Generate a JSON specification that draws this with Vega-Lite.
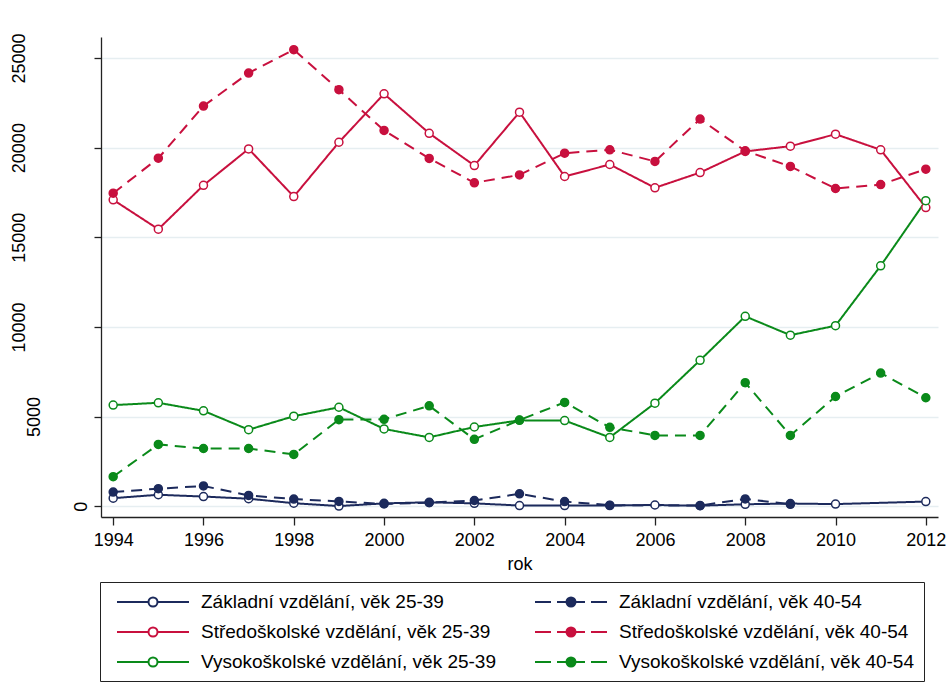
{
  "$schema": "https://vega.github.io/schema/vega-lite/v6.json",
  "width": 837,
  "height": 480,
  "autosize": "none",
  "padding": {"left": 101, "top": 37, "right": 12, "bottom": 182},
  "background": "white",
  "config": {
    "view": {"stroke": null},
    "font": "Liberation Sans",
    "axis": {"labelFont": "Liberation Sans", "titleFont": "Liberation Sans", "labelColor": "black", "titleColor": "black", "domainColor": "#222222", "tickColor": "#222222", "domainWidth": 1.3, "tickWidth": 1.3}
  },
  "data": {"values": [
    {"rok": 1994, "hodnota": 450, "serie": "Základní vzdělání, věk 25-39"},
    {"rok": 1995, "hodnota": 640, "serie": "Základní vzdělání, věk 25-39"},
    {"rok": 1996, "hodnota": 540, "serie": "Základní vzdělání, věk 25-39"},
    {"rok": 1997, "hodnota": 420, "serie": "Základní vzdělání, věk 25-39"},
    {"rok": 1998, "hodnota": 170, "serie": "Základní vzdělání, věk 25-39"},
    {"rok": 1999, "hodnota": 10, "serie": "Základní vzdělání, věk 25-39"},
    {"rok": 2000, "hodnota": 160, "serie": "Základní vzdělání, věk 25-39"},
    {"rok": 2001, "hodnota": 220, "serie": "Základní vzdělání, věk 25-39"},
    {"rok": 2002, "hodnota": 160, "serie": "Základní vzdělání, věk 25-39"},
    {"rok": 2003, "hodnota": 40, "serie": "Základní vzdělání, věk 25-39"},
    {"rok": 2004, "hodnota": 40, "serie": "Základní vzdělání, věk 25-39"},
    {"rok": 2005, "hodnota": 40, "serie": "Základní vzdělání, věk 25-39"},
    {"rok": 2006, "hodnota": 70, "serie": "Základní vzdělání, věk 25-39"},
    {"rok": 2007, "hodnota": 30, "serie": "Základní vzdělání, věk 25-39"},
    {"rok": 2008, "hodnota": 110, "serie": "Základní vzdělání, věk 25-39"},
    {"rok": 2009, "hodnota": 150, "serie": "Základní vzdělání, věk 25-39"},
    {"rok": 2010, "hodnota": 120, "serie": "Základní vzdělání, věk 25-39"},
    {"rok": 2012, "hodnota": 260, "serie": "Základní vzdělání, věk 25-39"},
    {"rok": 1994, "hodnota": 790, "serie": "Základní vzdělání, věk 40-54"},
    {"rok": 1995, "hodnota": 980, "serie": "Základní vzdělání, věk 40-54"},
    {"rok": 1996, "hodnota": 1130, "serie": "Základní vzdělání, věk 40-54"},
    {"rok": 1997, "hodnota": 600, "serie": "Základní vzdělání, věk 40-54"},
    {"rok": 1998, "hodnota": 400, "serie": "Základní vzdělání, věk 40-54"},
    {"rok": 1999, "hodnota": 270, "serie": "Základní vzdělání, věk 40-54"},
    {"rok": 2000, "hodnota": 130, "serie": "Základní vzdělání, věk 40-54"},
    {"rok": 2001, "hodnota": 200, "serie": "Základní vzdělání, věk 40-54"},
    {"rok": 2002, "hodnota": 320, "serie": "Základní vzdělání, věk 40-54"},
    {"rok": 2003, "hodnota": 690, "serie": "Základní vzdělání, věk 40-54"},
    {"rok": 2004, "hodnota": 260, "serie": "Základní vzdělání, věk 40-54"},
    {"rok": 2005, "hodnota": 60, "serie": "Základní vzdělání, věk 40-54"},
    {"rok": 2007, "hodnota": 40, "serie": "Základní vzdělání, věk 40-54"},
    {"rok": 2008, "hodnota": 410, "serie": "Základní vzdělání, věk 40-54"},
    {"rok": 2009, "hodnota": 110, "serie": "Základní vzdělání, věk 40-54"},
    {"rok": 1994, "hodnota": 17090, "serie": "Středoškolské vzdělání, věk 25-39"},
    {"rok": 1995, "hodnota": 15450, "serie": "Středoškolské vzdělání, věk 25-39"},
    {"rok": 1996, "hodnota": 17900, "serie": "Středoškolské vzdělání, věk 25-39"},
    {"rok": 1997, "hodnota": 19930, "serie": "Středoškolské vzdělání, věk 25-39"},
    {"rok": 1998, "hodnota": 17270, "serie": "Středoškolské vzdělání, věk 25-39"},
    {"rok": 1999, "hodnota": 20300, "serie": "Středoškolské vzdělání, věk 25-39"},
    {"rok": 2000, "hodnota": 23000, "serie": "Středoškolské vzdělání, věk 25-39"},
    {"rok": 2001, "hodnota": 20800, "serie": "Středoškolské vzdělání, věk 25-39"},
    {"rok": 2002, "hodnota": 19000, "serie": "Středoškolské vzdělání, věk 25-39"},
    {"rok": 2003, "hodnota": 21980, "serie": "Středoškolské vzdělání, věk 25-39"},
    {"rok": 2004, "hodnota": 18390, "serie": "Středoškolské vzdělání, věk 25-39"},
    {"rok": 2005, "hodnota": 19060, "serie": "Středoškolské vzdělání, věk 25-39"},
    {"rok": 2006, "hodnota": 17760, "serie": "Středoškolské vzdělání, věk 25-39"},
    {"rok": 2007, "hodnota": 18610, "serie": "Středoškolské vzdělání, věk 25-39"},
    {"rok": 2008, "hodnota": 19790, "serie": "Středoškolské vzdělání, věk 25-39"},
    {"rok": 2009, "hodnota": 20080, "serie": "Středoškolské vzdělání, věk 25-39"},
    {"rok": 2010, "hodnota": 20750, "serie": "Středoškolské vzdělání, věk 25-39"},
    {"rok": 2011, "hodnota": 19880, "serie": "Středoškolské vzdělání, věk 25-39"},
    {"rok": 2012, "hodnota": 16660, "serie": "Středoškolské vzdělání, věk 25-39"},
    {"rok": 1994, "hodnota": 17460, "serie": "Středoškolské vzdělání, věk 40-54"},
    {"rok": 1995, "hodnota": 19410, "serie": "Středoškolské vzdělání, věk 40-54"},
    {"rok": 1996, "hodnota": 22320, "serie": "Středoškolské vzdělání, věk 40-54"},
    {"rok": 1997, "hodnota": 24160, "serie": "Středoškolské vzdělání, věk 40-54"},
    {"rok": 1998, "hodnota": 25460, "serie": "Středoškolské vzdělání, věk 40-54"},
    {"rok": 1999, "hodnota": 23230, "serie": "Středoškolské vzdělání, věk 40-54"},
    {"rok": 2000, "hodnota": 20960, "serie": "Středoškolské vzdělání, věk 40-54"},
    {"rok": 2001, "hodnota": 19400, "serie": "Středoškolské vzdělání, věk 40-54"},
    {"rok": 2002, "hodnota": 18040, "serie": "Středoškolské vzdělání, věk 40-54"},
    {"rok": 2003, "hodnota": 18480, "serie": "Středoškolské vzdělání, věk 40-54"},
    {"rok": 2004, "hodnota": 19690, "serie": "Středoškolské vzdělání, věk 40-54"},
    {"rok": 2005, "hodnota": 19880, "serie": "Středoškolské vzdělání, věk 40-54"},
    {"rok": 2006, "hodnota": 19230, "serie": "Středoškolské vzdělání, věk 40-54"},
    {"rok": 2007, "hodnota": 21590, "serie": "Středoškolské vzdělání, věk 40-54"},
    {"rok": 2008, "hodnota": 19820, "serie": "Středoškolské vzdělání, věk 40-54"},
    {"rok": 2009, "hodnota": 18950, "serie": "Středoškolské vzdělání, věk 40-54"},
    {"rok": 2010, "hodnota": 17720, "serie": "Středoškolské vzdělání, věk 40-54"},
    {"rok": 2011, "hodnota": 17940, "serie": "Středoškolské vzdělání, věk 40-54"},
    {"rok": 2012, "hodnota": 18800, "serie": "Středoškolské vzdělání, věk 40-54"},
    {"rok": 1994, "hodnota": 5640, "serie": "Vysokoškolské vzdělání, věk 25-39"},
    {"rok": 1995, "hodnota": 5770, "serie": "Vysokoškolské vzdělání, věk 25-39"},
    {"rok": 1996, "hodnota": 5320, "serie": "Vysokoškolské vzdělání, věk 25-39"},
    {"rok": 1997, "hodnota": 4270, "serie": "Vysokoškolské vzdělání, věk 25-39"},
    {"rok": 1998, "hodnota": 5020, "serie": "Vysokoškolské vzdělání, věk 25-39"},
    {"rok": 1999, "hodnota": 5520, "serie": "Vysokoškolské vzdělání, věk 25-39"},
    {"rok": 2000, "hodnota": 4310, "serie": "Vysokoškolské vzdělání, věk 25-39"},
    {"rok": 2001, "hodnota": 3840, "serie": "Vysokoškolské vzdělání, věk 25-39"},
    {"rok": 2002, "hodnota": 4420, "serie": "Vysokoškolské vzdělání, věk 25-39"},
    {"rok": 2003, "hodnota": 4790, "serie": "Vysokoškolské vzdělání, věk 25-39"},
    {"rok": 2004, "hodnota": 4780, "serie": "Vysokoškolské vzdělání, věk 25-39"},
    {"rok": 2005, "hodnota": 3840, "serie": "Vysokoškolské vzdělání, věk 25-39"},
    {"rok": 2006, "hodnota": 5750, "serie": "Vysokoškolské vzdělání, věk 25-39"},
    {"rok": 2007, "hodnota": 8140, "serie": "Vysokoškolské vzdělání, věk 25-39"},
    {"rok": 2008, "hodnota": 10590, "serie": "Vysokoškolské vzdělání, věk 25-39"},
    {"rok": 2009, "hodnota": 9540, "serie": "Vysokoškolské vzdělání, věk 25-39"},
    {"rok": 2010, "hodnota": 10070, "serie": "Vysokoškolské vzdělání, věk 25-39"},
    {"rok": 2011, "hodnota": 13410, "serie": "Vysokoškolské vzdělání, věk 25-39"},
    {"rok": 2012, "hodnota": 17040, "serie": "Vysokoškolské vzdělání, věk 25-39"},
    {"rok": 1994, "hodnota": 1650, "serie": "Vysokoškolské vzdělání, věk 40-54"},
    {"rok": 1995, "hodnota": 3450, "serie": "Vysokoškolské vzdělání, věk 40-54"},
    {"rok": 1996, "hodnota": 3220, "serie": "Vysokoškolské vzdělání, věk 40-54"},
    {"rok": 1997, "hodnota": 3220, "serie": "Vysokoškolské vzdělání, věk 40-54"},
    {"rok": 1998, "hodnota": 2890, "serie": "Vysokoškolské vzdělání, věk 40-54"},
    {"rok": 1999, "hodnota": 4830, "serie": "Vysokoškolské vzdělání, věk 40-54"},
    {"rok": 2000, "hodnota": 4850, "serie": "Vysokoškolské vzdělání, věk 40-54"},
    {"rok": 2001, "hodnota": 5600, "serie": "Vysokoškolské vzdělání, věk 40-54"},
    {"rok": 2002, "hodnota": 3730, "serie": "Vysokoškolské vzdělání, věk 40-54"},
    {"rok": 2003, "hodnota": 4810, "serie": "Vysokoškolské vzdělání, věk 40-54"},
    {"rok": 2004, "hodnota": 5790, "serie": "Vysokoškolské vzdělání, věk 40-54"},
    {"rok": 2005, "hodnota": 4400, "serie": "Vysokoškolské vzdělání, věk 40-54"},
    {"rok": 2006, "hodnota": 3950, "serie": "Vysokoškolské vzdělání, věk 40-54"},
    {"rok": 2007, "hodnota": 3950, "serie": "Vysokoškolské vzdělání, věk 40-54"},
    {"rok": 2008, "hodnota": 6890, "serie": "Vysokoškolské vzdělání, věk 40-54"},
    {"rok": 2009, "hodnota": 3950, "serie": "Vysokoškolské vzdělání, věk 40-54"},
    {"rok": 2010, "hodnota": 6120, "serie": "Vysokoškolské vzdělání, věk 40-54"},
    {"rok": 2011, "hodnota": 7430, "serie": "Vysokoškolské vzdělání, věk 40-54"},
    {"rok": 2012, "hodnota": 6050, "serie": "Vysokoškolské vzdělání, věk 40-54"}
  ]},
  "encoding": {
    "x": {
      "field": "rok", "type": "quantitative",
      "scale": {"domain": [1993.73, 2012.27], "nice": false, "zero": false},
      "axis": {"values": [1994, 1996, 1998, 2000, 2002, 2004, 2006, 2008, 2010, 2012], "format": "d", "title": "rok", "grid": false, "labelFontSize": 18, "tickSize": 8, "labelPadding": 6, "titleFontSize": 18, "titleFontWeight": "normal", "titlePadding": 6, "labelFlush": false}
    },
    "y": {
      "field": "hodnota", "type": "quantitative",
      "scale": {"domain": [-600, 26170], "nice": false, "zero": false},
      "axis": {"values": [0, 5000, 10000, 15000, 20000, 25000], "format": "d", "title": null, "grid": true, "gridColor": "#e6eef1", "gridWidth": 1.6, "labelFontSize": 18, "labelAngle": 270, "labelAlign": "center", "labelBaseline": "alphabetic", "tickSize": 7, "labelFlush": false,
        "labelPadding": {"condition": [{"test": "datum.value >= 10000", "value": 70}, {"test": "datum.value >= 1000", "value": 55}], "value": 8}}
    }
  },
  "layer": [
    {
      "mark": {"type": "line", "strokeWidth": 2},
      "encoding": {
        "color": {
          "field": "serie", "type": "nominal",
          "scale": {
            "domain": ["Základní vzdělání, věk 25-39", "Středoškolské vzdělání, věk 25-39", "Vysokoškolské vzdělání, věk 25-39", "Základní vzdělání, věk 40-54", "Středoškolské vzdělání, věk 40-54", "Vysokoškolské vzdělání, věk 40-54"],
            "range": ["#1c2a5c", "#c8103e", "#0a8a1a", "#1c2a5c", "#c8103e", "#0a8a1a"]
          },
          "legend": {
            "orient": "none", "legendX": -1, "legendY": 545, "columns": 2, "title": null,
            "symbolSize": 400, "symbolStrokeWidth": 2, "labelFont": "Liberation Sans", "labelFontSize": 19, "labelColor": "black",
            "labelOffset": 70, "columnPadding": 30, "rowPadding": 9, "padding": 9, "labelLimit": 0,
            "strokeColor": "#222222", "fillColor": "white",
            "encode": {"symbols": {"update": {
              "shape": {"signal": "indexof(datum.value, '40-54') >= 0 ? 'M-0.3,0H1.3M1.9,0H2.85M3.75,0H4.7M5.3,0H6.9M2.85,0A0.45,0.45 0 1,1 3.75,0A0.45,0.45 0 1,1 2.85,0Z' : 'M-0.3,0H2.85M3.75,0H6.9M2.85,0A0.45,0.45 0 1,1 3.75,0A0.45,0.45 0 1,1 2.85,0Z'"},
              "fill": {"signal": "indexof(datum.value, '40-54') >= 0 ? scale('color', datum.value) : 'white'"},
              "stroke": {"signal": "scale('color', datum.value)"},
              "strokeWidth": {"value": 2},
              "opacity": {"value": 1}
            }}}
          }
        },
        "strokeDash": {
          "field": "serie", "type": "nominal",
          "scale": {
            "domain": ["Základní vzdělání, věk 25-39", "Základní vzdělání, věk 40-54", "Středoškolské vzdělání, věk 25-39", "Středoškolské vzdělání, věk 40-54", "Vysokoškolské vzdělání, věk 25-39", "Vysokoškolské vzdělání, věk 40-54"],
            "range": [[1, 0], [11, 7], [1, 0], [11, 7], [1, 0], [11, 7]]
          },
          "legend": null
        }
      }
    },
    {
      "mark": {"type": "point", "shape": "circle", "size": 64, "strokeWidth": 1.5, "filled": false, "opacity": 1},
      "encoding": {
        "stroke": {
          "field": "serie", "type": "nominal",
          "scale": {
            "domain": ["Základní vzdělání, věk 25-39", "Základní vzdělání, věk 40-54", "Středoškolské vzdělání, věk 25-39", "Středoškolské vzdělání, věk 40-54", "Vysokoškolské vzdělání, věk 25-39", "Vysokoškolské vzdělání, věk 40-54"],
            "range": ["#1c2a5c", "#1c2a5c", "#c8103e", "#c8103e", "#0a8a1a", "#0a8a1a"]
          },
          "legend": null
        },
        "fill": {
          "field": "serie", "type": "nominal",
          "scale": {
            "domain": ["Základní vzdělání, věk 25-39", "Základní vzdělání, věk 40-54", "Středoškolské vzdělání, věk 25-39", "Středoškolské vzdělání, věk 40-54", "Vysokoškolské vzdělání, věk 25-39", "Vysokoškolské vzdělání, věk 40-54"],
            "range": ["white", "#1c2a5c", "white", "#c8103e", "white", "#0a8a1a"]
          },
          "legend": null
        }
      }
    }
  ]
}
